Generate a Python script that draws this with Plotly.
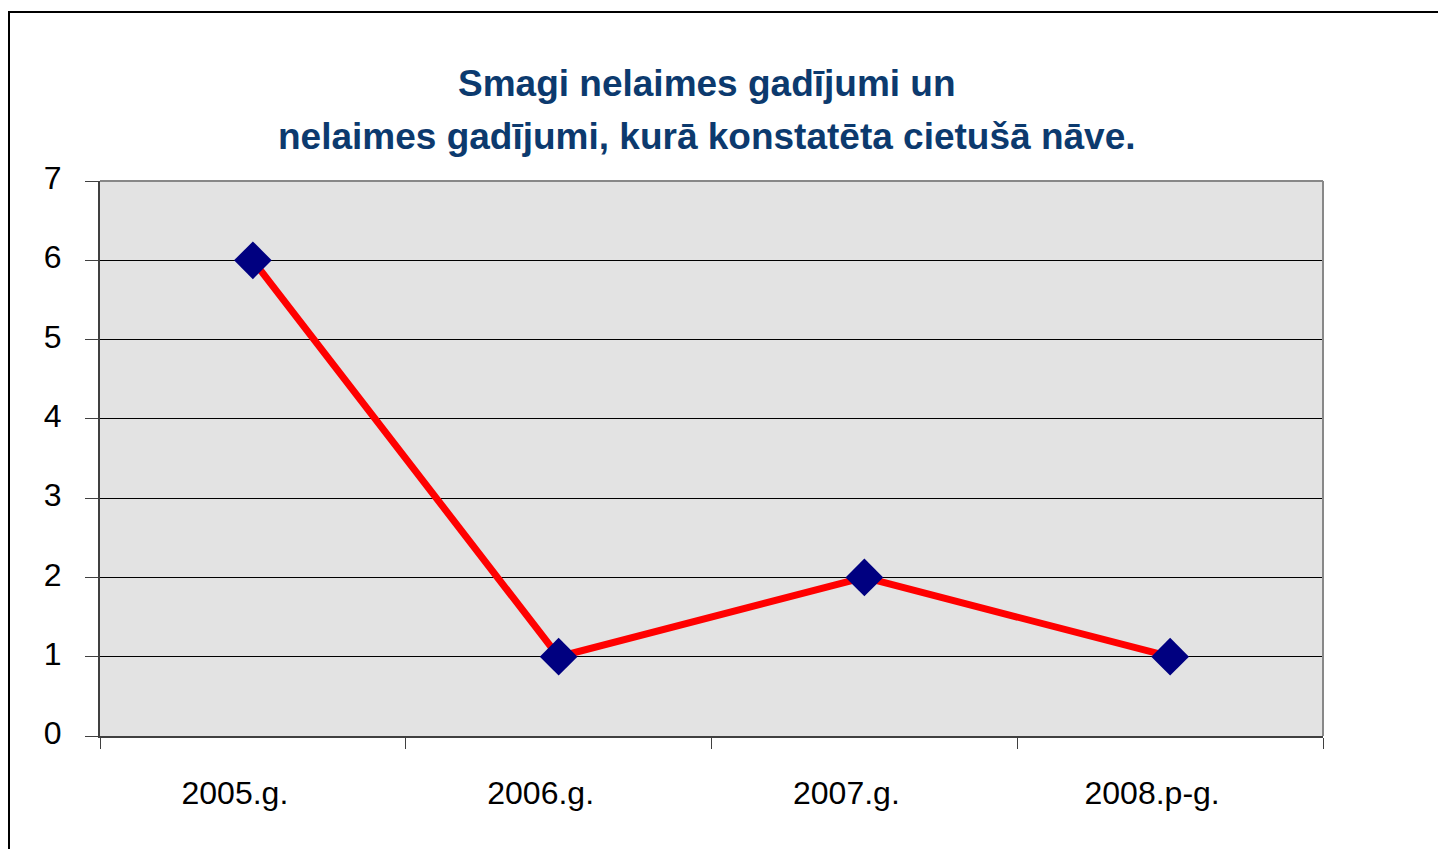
import plotly.graph_objects as go

categories = ["2005.g.", "2006.g.", "2007.g.", "2008.p-g."]
values = [6, 1, 2, 1]
title_lines = ["Smagi nelaimes gadījumi un", "nelaimes gadījumi, kurā konstatēta cietušā nāve."]

FONT = "Liberation Sans, Arial, sans-serif"

# page body has an 8px margin; figure coordinates are screen coords minus 8
OFF = 8
W, H = 1446 - OFF, 849 - OFF
L, R, T, B = 100 - OFF, 1323 - OFF, 181 - OFF, 736 - OFF
pw, ph = R - L, B - T

def px(x):
    return (x - OFF - L) / pw

def py(y):
    return (B - (y - OFF)) / ph

fig = go.Figure()
fig.add_trace(go.Scatter(
    x=categories, y=values, mode="lines+markers",
    line=dict(color="#FF0000", width=7),
    marker=dict(symbol="diamond", size=29, color="#000080", line=dict(width=0)),
    showlegend=False, hoverinfo="x+y",
))

shapes = [
    # outer frame
    dict(type="rect", xref="paper", yref="paper", x0=px(9), x1=px(1480), y0=py(900), y1=py(12),
         line=dict(color="#000000", width=2), fillcolor="rgba(0,0,0,0)", layer="above"),
    # plot frame top/right gray
    dict(type="line", xref="paper", yref="paper", x0=0, x1=1, y0=1, y1=1,
         line=dict(color="#888888", width=2)),
    dict(type="line", xref="paper", yref="paper", x0=1, x1=1, y0=0, y1=1,
         line=dict(color="#888888", width=2)),
]

annotations = [
    dict(text=f"<b>{title_lines[0]}</b>", xref="paper", yref="paper", x=px(707), y=py(83),
         xanchor="center", yanchor="middle", showarrow=False,
         font=dict(family=FONT, size=37, color="#0C3A6E")),
    dict(text=f"<b>{title_lines[1]}</b>", xref="paper", yref="paper", x=px(707), y=py(137),
         xanchor="center", yanchor="middle", showarrow=False,
         font=dict(family=FONT, size=37, color="#0C3A6E")),
]

fig.update_layout(
    width=W, height=H,
    margin=dict(l=L, r=W - R, t=T, b=H - B, pad=0),
    paper_bgcolor="white", plot_bgcolor="#E3E3E3",
    shapes=shapes, annotations=annotations,
    font=dict(family=FONT, color="#000000"),
)
fig.update_xaxes(
    type="category", range=[-0.5, 3.5], tickson="boundaries", ticks="outside", ticklen=11,
    tickcolor="#404040", tickwidth=1, showgrid=False, showline=True, linecolor="#404040",
    linewidth=2, tickfont=dict(size=32, family=FONT, color="#000000"),
    ticklabelstandoff=28, ticklabelshift=-18, zeroline=False,
)
fig.update_yaxes(
    range=[0, 7], tickvals=[0, 1, 2, 3, 4, 5, 6, 7], ticks="outside", ticklen=13,
    tickcolor="#404040", tickwidth=1, showgrid=True, gridcolor="#000000", gridwidth=1,
    showline=True, linecolor="#404040", linewidth=2, zeroline=False,
    tickfont=dict(size=32, family=FONT, color="#000000"),
    ticklabelstandoff=17, ticklabelshift=-3,
)

fig.write_html("out.html")
